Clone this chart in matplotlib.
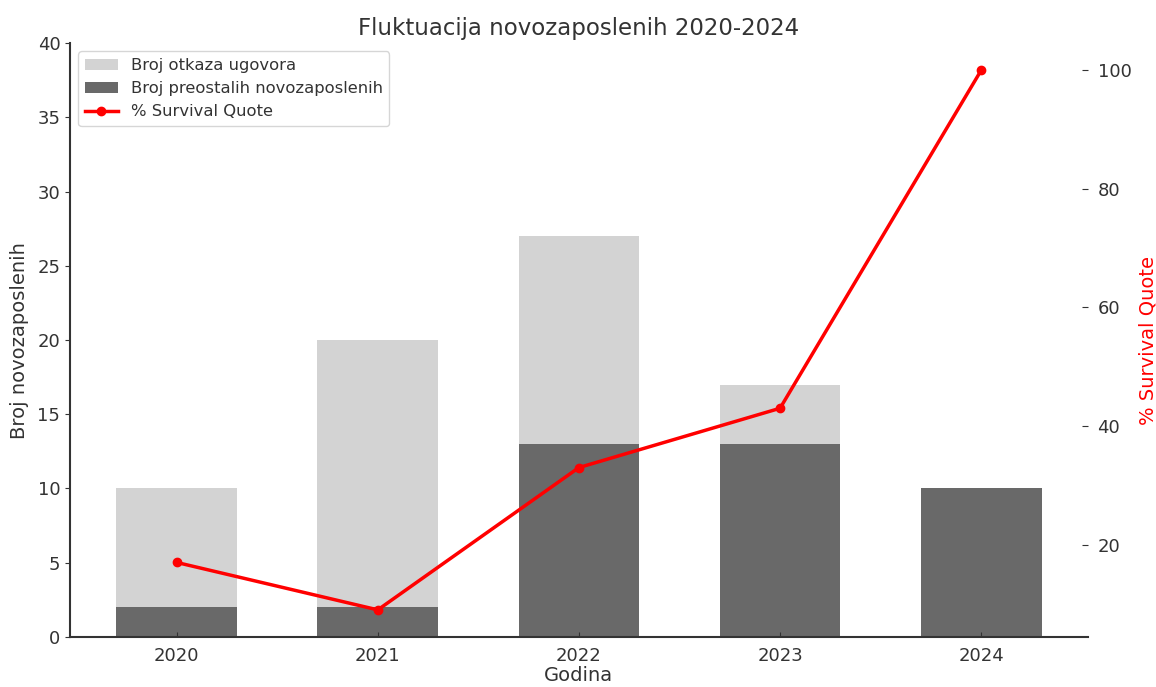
import matplotlib
matplotlib.use("Agg")
import matplotlib.pyplot as plt
import numpy as np

years = ["2020", "2021", "2022", "2023", "2024"]
total_hires = [10, 20, 27, 17, 10]
remaining = [2, 2, 13, 13, 10]
survival = [17, 9, 33, 43, 100]

txt = "#333333"
plt.rcParams['font.family'] = ['DejaVu Sans']
plt.rcParams['text.color'] = txt
plt.rcParams['axes.labelcolor'] = txt
plt.rcParams['xtick.color'] = txt
plt.rcParams['ytick.color'] = txt

fig, ax = plt.subplots(figsize=(11.56, 6.87), dpi=100)
fig.subplots_adjust(left=0.0606, right=0.941, top=0.937, bottom=0.073)

x = np.arange(len(years))
b1 = ax.bar(x, total_hires, width=0.6, color="#d3d3d3", label="Broj otkaza ugovora")
b2 = ax.bar(x, remaining, width=0.6, color="#696969", label="Broj preostalih novozaposlenih")
ax.set_ylim(0, 40)
ax.set_xticks(x)
ax.set_xticklabels(years)
ax.set_xlabel("Godina", fontsize=14, labelpad=1)
ax.set_ylabel("Broj novozaposlenih", fontsize=14, labelpad=6)
ax.tick_params(axis='x', direction='in', labelsize=13, pad=7)
ax.tick_params(axis='y', direction='out', labelsize=13)
for s in ["top", "right"]:
    ax.spines[s].set_visible(False)
for s in ["left", "bottom"]:
    ax.spines[s].set_color(txt)
    ax.spines[s].set_linewidth(1.5)

ax2 = ax.twinx()
ln, = ax2.plot(x, survival, color="red", marker="o", linewidth=2.5, markersize=6, label="% Survival Quote")
ax2.set_ylabel("% Survival Quote", color="red", fontsize=14, labelpad=5)
ax2.tick_params(axis='y', labelsize=13, direction='in', length=4, pad=7)
for s in ["top", "right", "left", "bottom"]:
    ax2.spines[s].set_visible(False)

ax.set_title("Fluktuacija novozaposlenih 2020-2024", fontsize=16.5, color=txt)
ax.legend(handles=[b1, b2, ln], loc="upper left", fontsize=11.8, framealpha=0.8)

fig.savefig("out.png", dpi=100)
